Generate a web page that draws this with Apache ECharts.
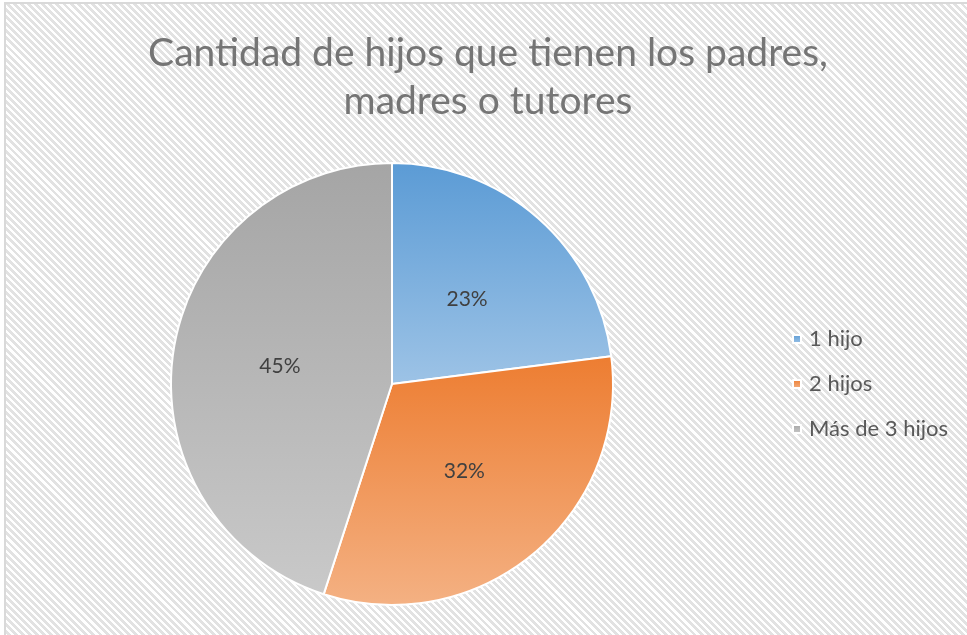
<!DOCTYPE html>
<html>
<head>
<meta charset="utf-8">
<script src="https://cdn.jsdelivr.net/npm/echarts@6/dist/echarts.min.js"></script>
<style>
  html, body { margin: 0; padding: 0; background: #fff; }
  #main {
    position: absolute; left: 4px; top: 2px; width: 963px; height: 633px;
    border-left: 2px solid #d9d9d9; border-top: 2px solid #d9d9d9;
    background: repeating-linear-gradient(45deg, #ffffff 0px, #ffffff 2.2px, #e2e2e2 2.2px, #e2e2e2 5px);
  }
</style>
</head>
<body>
<div id="main"></div>
<script>
// categories and shares (percent)
const categories = ['1 hijo', '2 hijos', 'Más de 3 hijos'];
const values = [23, 32, 45];
// top / bottom colours of each slice gradient
const topColors = ['#5b9bd5', '#ed7d31', '#a5a5a5'];
const bottomColors = ['#9dc3e6', '#f4b183', '#c9c9c9'];

const chart = echarts.init(document.getElementById('main'));

const data = categories.map((name, i) => ({
  name: name,
  value: values[i],
  itemStyle: {
    color: new echarts.graphic.LinearGradient(0, 0, 0, 1, [
      { offset: 0, color: topColors[i] },
      { offset: 1, color: bottomColors[i] }
    ])
  }
}));

chart.setOption({
  backgroundColor: 'transparent',
  title: {
    text: 'Cantidad de hijos que tienen los padres,\nmadres o tutores',
    left: 477,
    top: 20,
    textAlign: 'center',
    textStyle: {
      fontFamily: 'Lato',
      fontWeight: 'normal',
      fontSize: 39,
      lineHeight: 48,
      color: '#757575'
    }
  },
  legend: {
    orient: 'vertical',
    left: 781,
    top: 318,
    icon: 'rect',
    itemWidth: 8,
    itemHeight: 8,
    itemGap: 21,
    data: categories,
    textStyle: {
      fontFamily: 'Lato',
      fontSize: 22,
      lineHeight: 24,
      padding: [0, 0, 0, 3],
      color: '#595959'
    }
  },
  series: [{
    type: 'pie',
    center: [386, 380],
    radius: ['0%', 221],
    startAngle: 90,
    clockwise: true,
    silent: true,
    itemStyle: { borderColor: '#ffffff', borderWidth: 2 },
    label: {
      show: true,
      position: 'inner',
      formatter: '{d}%',
      fontFamily: 'Lato',
      fontSize: 21,
      color: '#404040'
    },
    labelLine: { show: false },
    data: data
  }]
});
</script>
</body>
</html>
